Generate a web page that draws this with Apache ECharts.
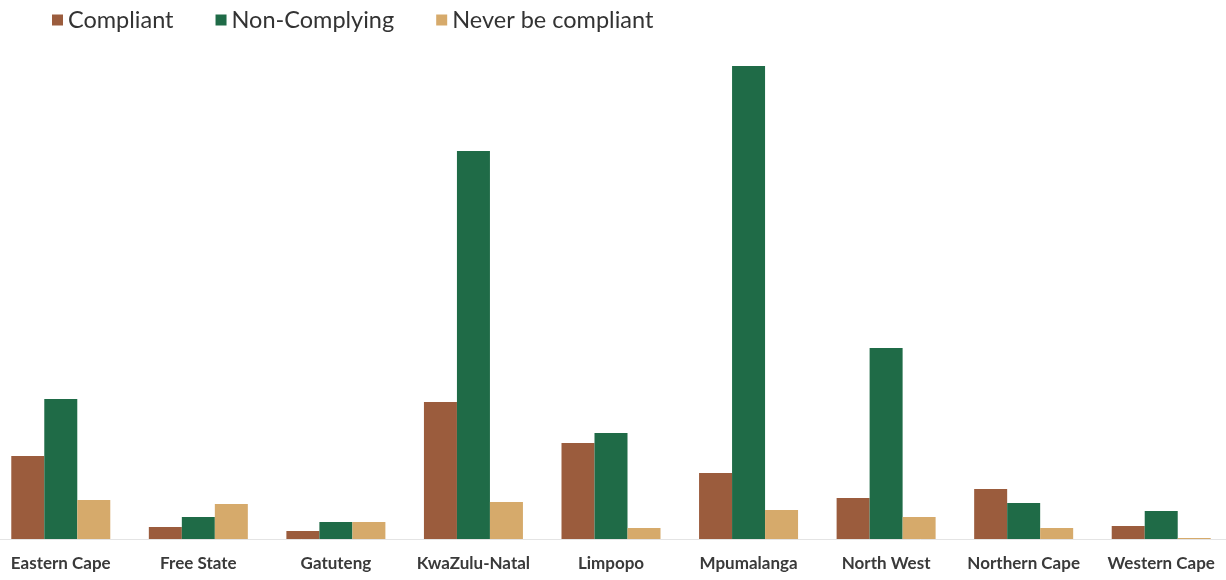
<!DOCTYPE html>
<html>
<head>
<meta charset="utf-8">
<script src="https://cdn.jsdelivr.net/npm/echarts@6/dist/echarts.min.js"></script>
<style>
  html, body { margin: 0; padding: 0; background: #fff; overflow: hidden; }
  #main { position: absolute; left: -8px; top: 0; width: 1238px; height: 580px; }
</style>
</head>
<body>
<div id="main"></div>
<script>
var provinces = ['Eastern Cape', 'Free State', 'Gatuteng', 'KwaZulu-Natal', 'Limpopo',
    'Mpumalanga', 'North West', 'Northern Cape', 'Western Cape'];
// values (no axis in the original, so relative units)
var compliant = [83, 12, 8, 137, 96, 66, 41, 50, 13];
var nonComplying = [140, 22, 17, 388, 106, 473, 191, 36, 28];
var neverCompliant = [39, 35, 17, 37, 11, 29, 22, 11, 1];

var myChart = echarts.init(document.getElementById('main'));

var option = {
    animation: false,
    textStyle: { fontFamily: 'Lato' },
    legend: {
        left: 55,
        top: 3,
        itemWidth: 11,
        itemHeight: 11,
        itemGap: 42,
        icon: 'rect',
        textStyle: { fontSize: 23.5, color: '#333', fontFamily: 'Lato' },
        data: ['Compliant', 'Non-Complying', 'Never be compliant']
    },
    grid: {
        left: 0,
        right: 0,
        top: 66,
        bottom: 41
    },
    xAxis: {
        type: 'category',
        data: provinces,
        axisTick: { show: false },
        axisLine: { lineStyle: { color: '#e4e4e4', width: 1 } },
        axisLabel: {
            interval: 0,
            margin: 16,
            fontSize: 17,
            fontWeight: 'bold',
            color: '#3a3a3a',
            fontFamily: 'Lato'
        }
    },
    yAxis: {
        type: 'value',
        min: 0,
        max: 473,
        show: false,
        splitLine: { show: false }
    },
    series: [
        {
            name: 'Compliant',
            type: 'bar',
            barWidth: 33,
            barGap: '0%',
            itemStyle: { color: '#9b5c3d' },
            data: compliant
        },
        {
            name: 'Non-Complying',
            type: 'bar',
            barWidth: 33,
            barGap: '0%',
            itemStyle: { color: '#1f6b47' },
            data: nonComplying
        },
        {
            name: 'Never be compliant',
            type: 'bar',
            barWidth: 33,
            barGap: '0%',
            itemStyle: { color: '#d6aa6b' },
            data: neverCompliant
        }
    ]
};
myChart.setOption(option);
</script>
</body>
</html>
